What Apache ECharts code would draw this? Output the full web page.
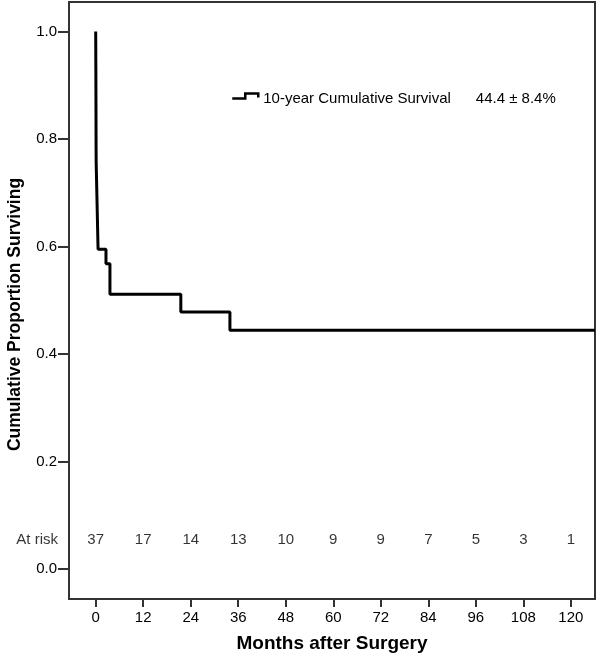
<!DOCTYPE html>
<html>
<head>
<meta charset="utf-8">
<script src="https://cdn.jsdelivr.net/npm/echarts@6/dist/echarts.min.js"></script>
<style>
  html, body { margin: 0; padding: 0; background: #fff; }
  #chart { width: 600px; height: 659px; }
</style>
</head>
<body>
<div id="chart"></div>
<script>
// Kaplan-Meier step points (months, cumulative proportion surviving)
const months = [0, 0.02, 0.03, 0.05, 0.06, 0.07, 0.08, 0.09, 0.1, 0.12,
  0.2, 0.28, 0.36, 0.44, 0.52, 0.6, 2.6, 3.6, 21.5, 33.9, 126.1];
const survival = [1.0, 0.973, 0.946, 0.919, 0.892, 0.865, 0.838, 0.811, 0.784, 0.757,
  0.73, 0.703, 0.676, 0.649, 0.622, 0.595, 0.568, 0.511, 0.478, 0.444, 0.444];

// numbers at risk under each x tick
const riskMonths = [0, 12, 24, 36, 48, 60, 72, 84, 96, 108, 120];
const atRisk = [37, 17, 14, 13, 10, 9, 9, 7, 5, 3, 1];
const riskRowY = 0.054;

const yTicks = [0, 0.2, 0.4, 0.6, 0.8, 1.0];
const xTicks = riskMonths;
const seriesName = "10-year Cumulative Survival";
const summaryText = "44.4 \u00b1 8.4%";

const xMin = -6.74, xMax = 126.1;
const yMin = -0.056, yMax = 1.055;

const font = "Liberation Sans, Arial, sans-serif";

let chart = echarts.init(document.getElementById("chart"));

let curve = months.map(function (m, i) {
  return [m, survival[i]];
});
let riskData = riskMonths.map(function (m, i) {
  return [m, riskRowY, atRisk[i]];
});

let option = {
  animation: false,
  textStyle: { fontFamily: font },
  grid: {
    left: 69,
    right: 5,
    top: 2,
    bottom: 60,
    outerBoundsMode: "none",
    containLabel: false,
    show: true,
    borderColor: "#333",
    borderWidth: 2,
  },
  legend: {
    left: 226,
    top: 86,
    data: [seriesName],
    icon: "path://M0,5L13,5L13,0L26,0L26,4M26,10",
    itemWidth: 26,
    itemHeight: 10,
    symbolKeepAspect: false,
    itemStyle: {
      color: "rgba(0,0,0,0)",
      borderColor: "#000",
      borderWidth: 2.5,
    },
    formatter: function (name) {
      return "{a|" + name + "}{b|" + summaryText + "}";
    },
    textStyle: {
      fontFamily: font,
      fontSize: 15,
      color: "#000",
      rich: {
        a: { fontFamily: font, fontSize: 15, color: "#000" },
        b: { fontFamily: font, fontSize: 15, color: "#000", padding: [0, 0, 0, 25] },
      },
    },
  },
  xAxis: {
    type: "value",
    min: xMin,
    max: xMax,
    name: "Months after Surgery",
    nameLocation: "middle",
    nameGap: 35,
    nameTextStyle: { fontFamily: font, fontSize: 19, fontWeight: "bold", color: "#000" },
    axisLine: { show: true, onZero: false, lineStyle: { color: "#333", width: 2 } },
    axisTick: {
      show: true,
      length: 8,
      customValues: xTicks,
      lineStyle: { color: "#333", width: 2 },
    },
    axisLabel: {
      customValues: xTicks,
      margin: 11,
      fontFamily: font,
      fontSize: 15,
      color: "#000",
    },
    splitLine: { show: false },
  },
  yAxis: {
    type: "value",
    min: yMin,
    max: yMax,
    name: "Cumulative Proportion Surviving",
    nameLocation: "middle",
    nameGap: 45,
    nameTextStyle: {
      fontFamily: font,
      fontSize: 17.5,
      fontWeight: "bold",
      color: "#000",
      padding: [0, 28, 0, 0],
    },
    axisLine: { show: true, onZero: false, lineStyle: { color: "#333", width: 2 } },
    axisTick: {
      show: true,
      length: 11,
      customValues: yTicks,
      lineStyle: { color: "#333", width: 2 },
    },
    axisLabel: {
      customValues: yTicks,
      margin: 12,
      fontFamily: font,
      fontSize: 15,
      color: "#000",
      formatter: function (v) {
        return v.toFixed(1);
      },
    },
    splitLine: { show: false },
  },
  series: [
    {
      name: seriesName,
      type: "line",
      step: "end",
      showSymbol: false,
      symbol: "none",
      data: curve,
      lineStyle: { color: "#000", width: 3 },
      itemStyle: { color: "#000" },
    },
    {
      name: "atRisk",
      type: "scatter",
      symbolSize: 0,
      data: riskData,
      silent: true,
      label: {
        show: true,
        position: "inside",
        fontFamily: font,
        fontSize: 15,
        color: "#000",
        formatter: function (p) {
          return String(p.data[2]);
        },
      },
    },
    {
      name: "atRiskTitle",
      type: "scatter",
      symbolSize: 0,
      clip: false,
      data: [[xMin, riskRowY]],
      silent: true,
      label: {
        show: true,
        position: "left",
        distance: 11,
        fontFamily: font,
        fontSize: 15,
        color: "#000",
        formatter: "At risk",
      },
    },
  ],
};

chart.setOption(option);
</script>
</body>
</html>
